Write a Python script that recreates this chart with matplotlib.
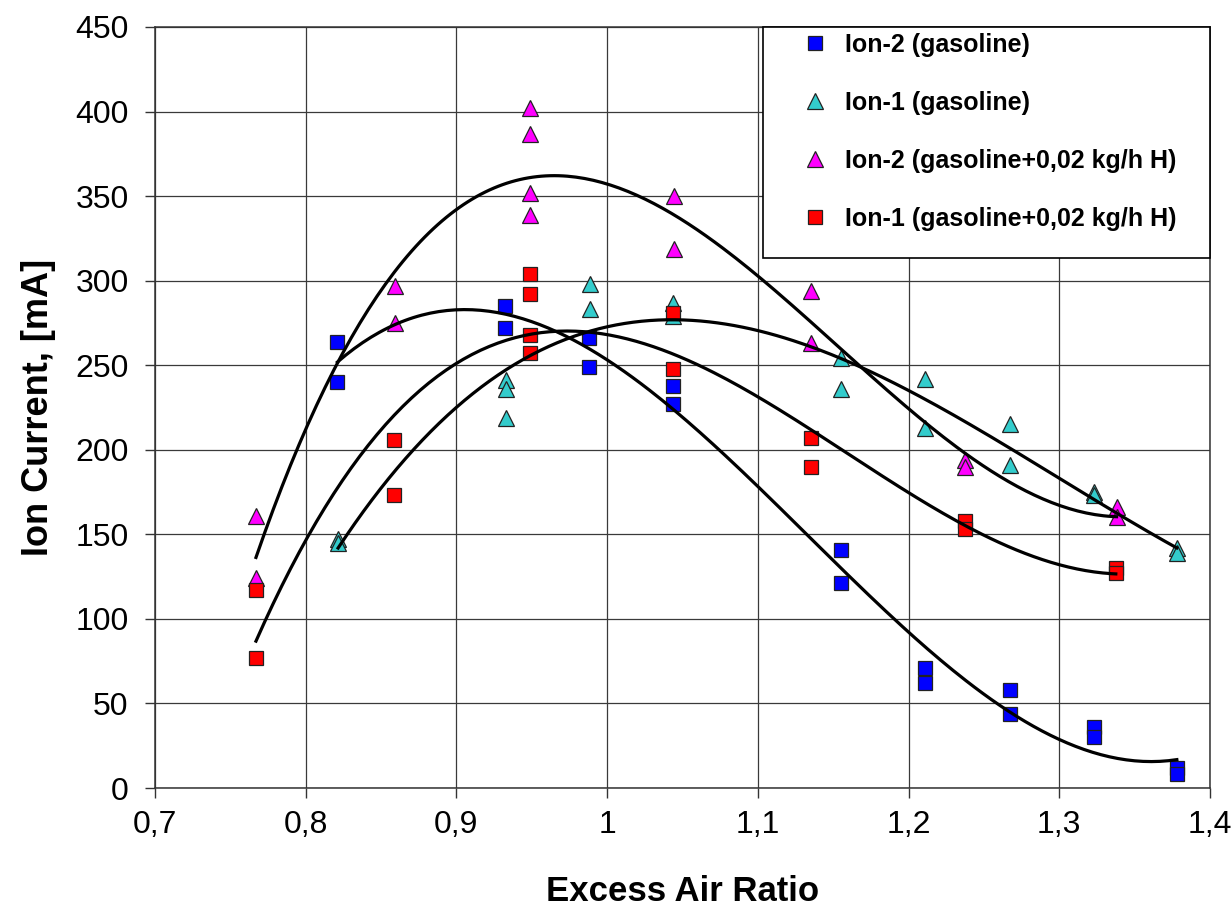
import numpy as np
import matplotlib.pyplot as plt
from matplotlib.patches import Rectangle

plt.rcParams['font.family'] = ['Liberation Sans', 'DejaVu Sans']

# ==============================
# Data
# ==============================
# Ion-2 (gasoline)
ion2_gas_x = [0.821, 0.821, 0.932, 0.932, 0.988, 0.988, 1.044, 1.044, 1.155, 1.155,
              1.211, 1.211, 1.267, 1.267, 1.323, 1.323, 1.378, 1.378]
ion2_gas_y = [264, 240, 285, 272, 266, 249, 238, 227, 141, 121,
              71, 62, 58, 44, 36, 30, 12, 8]

# Ion-1 (gasoline)
ion1_gas_x = [0.8215, 0.8215, 0.933, 0.933, 0.933, 0.9885, 0.9885, 1.044, 1.044,
              1.155, 1.155, 1.211, 1.211, 1.267, 1.267, 1.323, 1.323, 1.378, 1.378]
ion1_gas_y = [147, 145, 241, 236, 219, 298, 283, 287, 279,
              254, 236, 242, 213, 215, 191, 175, 173, 142, 139]

# Ion-2 (gasoline+0,02 kg/h H)
ion2_h_x = [0.767, 0.767, 0.859, 0.859, 0.949, 0.949, 0.949, 0.949,
            1.0445, 1.0445, 1.135, 1.135, 1.2375, 1.2375, 1.338, 1.338]
ion2_h_y = [161, 124, 297, 275, 402, 387, 352, 339,
            350, 319, 294, 263, 194, 190, 166, 160]

# Ion-1 (gasoline+0,02 kg/h H)
ion1_h_x = [0.767, 0.767, 0.8586, 0.8586, 0.9487, 0.9487, 0.9487, 0.9487,
            1.044, 1.044, 1.135, 1.135, 1.2375, 1.2375, 1.3375, 1.3375]
ion1_h_y = [117, 77, 206, 173, 304, 292, 268, 257,
            281, 248, 207, 190, 158, 153, 130, 127]

labels = ["Ion-2 (gasoline)", "Ion-1 (gasoline)",
          "Ion-2 (gasoline+0,02 kg/h H)", "Ion-1 (gasoline+0,02 kg/h H)"]

x_ticks = [0.7, 0.8, 0.9, 1.0, 1.1, 1.2, 1.3, 1.4]
x_ticklabels = ["0,7", "0,8", "0,9", "1", "1,1", "1,2", "1,3", "1,4"]
y_ticks = [0, 50, 100, 150, 200, 250, 300, 350, 400, 450]

series = [
    (ion2_gas_x, ion2_gas_y, 's', 10, '#0000FF'),
    (ion1_gas_x, ion1_gas_y, '^', 11.5, '#33CCCC'),
    (ion2_h_x, ion2_h_y, '^', 11.5, '#FF00FF'),
    (ion1_h_x, ion1_h_y, 's', 10, '#FF0000'),
]

# ==============================
# Plot
# ==============================
fig = plt.figure(figsize=(12.32, 9.06), dpi=100)
ax = fig.add_axes([155 / 1232, 1 - 788 / 906, 1055 / 1232, 761 / 906])

handles = []
for (xs, ys, mk, ms, col), lab in zip(series, labels):
    h, = ax.plot(xs, ys, linestyle='none', marker=mk, markersize=ms,
                 markerfacecolor=col, markeredgecolor='#222222',
                 markeredgewidth=0.9, label=lab, zorder=3)
    handles.append(h)

# polynomial trend lines (like the spreadsheet ones)
for xs, ys, mk, ms, col in series:
    coef = np.polyfit(xs, ys, 3)
    xx = np.linspace(min(xs), max(xs), 200)
    ax.plot(xx, np.polyval(coef, xx), color='black', linewidth=2.3, zorder=4)

ax.set_xlim(0.7, 1.4)
ax.set_ylim(0, 450)
ax.set_xticks(x_ticks)
ax.set_xticklabels(x_ticklabels)
ax.set_yticks(y_ticks)
ax.tick_params(axis='both', direction='out', length=7, width=1,
               labelsize=23, color='#333333')
ax.tick_params(axis='x', pad=9)
ax.tick_params(axis='y', pad=12)
ax.grid(True, color='#3a3a3a', linewidth=0.9)
ax.set_axisbelow(True)
for sp in ax.spines.values():
    sp.set_color('#333333')
    sp.set_linewidth(1.1)

ax.set_xlabel("Excess Air Ratio", fontsize=25, fontweight='bold', labelpad=25)
ax.set_ylabel("Ion Current, [mA]", fontsize=26, fontweight='bold', labelpad=14)

# legend box
ax.add_patch(Rectangle((0.5763, 0.6965), 1 - 0.5763, 1 - 0.6965,
                       transform=ax.transAxes, facecolor='white',
                       edgecolor='black', linewidth=1.2, zorder=5,
                       clip_on=False))
leg = ax.legend(handles=handles, loc='upper left', bbox_to_anchor=(0.6137, 0.992),
                frameon=False, borderpad=0, borderaxespad=0, numpoints=1,
                handlelength=1.0, handletextpad=0.7, labelspacing=1.36,
                prop={'size': 18, 'weight': 'bold'})
leg.set_zorder(6)

fig.savefig("out.png", dpi=100)
